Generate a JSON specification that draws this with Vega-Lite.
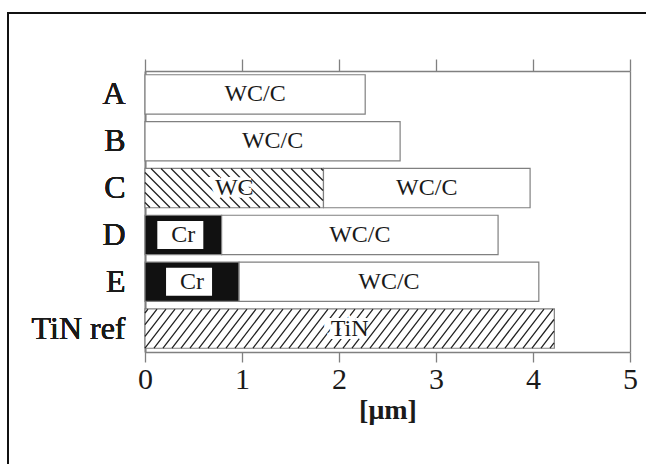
{
  "$schema": "https://vega.github.io/schema/vega-lite/v6.json",
  "autosize": {"type": "none"},
  "padding": {"left": 8, "top": 13, "right": -6, "bottom": -7},
  "width": 644,
  "height": 458,
  "background": "white",
  "config": {
    "view": {"stroke": "#111", "strokeWidth": 2},
    "font": "Liberation Serif",
    "axis": {"grid": false, "domainColor": "#808080", "domainWidth": 1.3, "tickColor": "#808080", "tickWidth": 1.3, "labelColor": "#1a1a1a", "labelFont": "Liberation Serif", "titleFont": "Liberation Serif", "titleColor": "#1a1a1a", "labelFlush": false}
  },
  "data": {
    "values": [
      {"sample": "A", "layer": "WC/C", "t": 2.27, "o": 1},
      {"sample": "B", "layer": "WC/C", "t": 2.63, "o": 1},
      {"sample": "C", "layer": "WC", "t": 1.84, "o": 1},
      {"sample": "C", "layer": "WC/C", "t": 2.13, "o": 2},
      {"sample": "D", "layer": "Cr", "t": 0.79, "o": 1},
      {"sample": "D", "layer": "WC/C", "t": 2.85, "o": 2},
      {"sample": "E", "layer": "Cr", "t": 0.97, "o": 1},
      {"sample": "E", "layer": "WC/C", "t": 3.09, "o": 2},
      {"sample": "TiN ref", "layer": "TiN", "t": 4.22, "o": 1}
    ]
  },
  "transform": [
    {"stack": "t", "groupby": ["sample"], "sort": [{"field": "o"}], "as": ["x0", "x1"]},
    {"calculate": "(datum.x0 + datum.x1) / 2", "as": "mid"}
  ],
  "encoding": {
    "y": {
      "field": "sample", "type": "nominal",
      "sort": ["A", "B", "C", "D", "E", "TiN ref"],
      "scale": {"range": [58, 339], "paddingInner": 0.16, "paddingOuter": 0.08},
      "axis": {"orient": "left", "offset": -137, "title": null, "ticks": false, "tickSize": 0, "labelPadding": 20, "labelFontSize": 32, "labelAngle": 0}
    }
  },
  "layer": [
    {
      "mark": {"type": "bar", "stroke": "#808080", "strokeWidth": 1.2},
      "encoding": {
        "x": {
          "field": "x0", "type": "quantitative",
          "scale": {"domain": [0, 5], "range": [137, 622], "nice": false},
          "axis": {"orient": "bottom", "offset": -119, "values": [0, 1, 2, 3, 4, 5], "tickSize": 10, "labelFontSize": 30, "labelPadding": 2, "title": "[μm]", "titleFontSize": 28, "titleFontWeight": "bold", "titlePadding": 2}
        },
        "x2": {"field": "x1"},
        "fill": {"condition": {"test": "datum.layer === 'Cr'", "value": "#111"}, "value": "white"}
      }
    },
    {
      "transform": [{"filter": "datum.layer === 'WC' || datum.layer === 'TiN'"}],
      "mark": {"type": "point", "filled": false, "color": "#222", "strokeWidth": 1.3, "opacity": 1, "size": 4},
      "encoding": {
        "x": {"field": "x0", "type": "quantitative", "axis": {"orient": "top", "offset": -58, "values": [0, 1, 2, 3, 4, 5], "tickSize": 12, "labels": false, "title": null}},
        "shape": {
          "field": "layer", "type": "nominal", "legend": null,
          "scale": {
            "domain": ["WC", "TiN"],
            "range": [
              "M0,14.5L5,19.5M0,4.5L15,19.5M0,-5.5L25,19.5M0,-15.5L35,19.5M6,-19.5l39,39M16,-19.5l39,39M26,-19.5l39,39M36,-19.5l39,39M46,-19.5l39,39M56,-19.5l39,39M66,-19.5l39,39M76,-19.5l39,39M86,-19.5l39,39M96,-19.5l39,39M106,-19.5l39,39M116,-19.5l39,39M126,-19.5l39,39M136,-19.5l39,39M146,-19.5L178,12.5M156,-19.5L178,2.5M166,-19.5L178,-7.5M176,-19.5L178,-17.5",
              "M0,-15.6L3,-19.5M0,-3.9L12,-19.5M0,7.8L21,-19.5M0,19.5l30,-39M9,19.5l30,-39M18,19.5l30,-39M27,19.5l30,-39M36,19.5l30,-39M45,19.5l30,-39M54,19.5l30,-39M63,19.5l30,-39M72,19.5l30,-39M81,19.5l30,-39M90,19.5l30,-39M99,19.5l30,-39M108,19.5l30,-39M117,19.5l30,-39M126,19.5l30,-39M135,19.5l30,-39M144,19.5l30,-39M153,19.5l30,-39M162,19.5l30,-39M171,19.5l30,-39M180,19.5l30,-39M189,19.5l30,-39M198,19.5l30,-39M207,19.5l30,-39M216,19.5l30,-39M225,19.5l30,-39M234,19.5l30,-39M243,19.5l30,-39M252,19.5l30,-39M261,19.5l30,-39M270,19.5l30,-39M279,19.5l30,-39M288,19.5l30,-39M297,19.5l30,-39M306,19.5l30,-39M315,19.5l30,-39M324,19.5l30,-39M333,19.5l30,-39M342,19.5l30,-39M351,19.5l30,-39M360,19.5l30,-39M369,19.5l30,-39M378,19.5l30,-39M387,19.5L409,-9.1M396,19.5L409,2.6M405,19.5L409,14.3"
            ]
          }
        }
      }
    },
    {
      "transform": [{"filter": "datum.layer === 'Cr'"}],
      "mark": {"type": "point", "filled": true, "color": "white", "opacity": 1, "size": 4, "xOffset": -3, "shape": "M-23,-14h46v28h-46z"},
      "encoding": {
        "x": {"field": "mid", "type": "quantitative", "axis": null}
      }
    },
    {
      "transform": [{"filter": "datum.layer === 'WC' || datum.layer === 'TiN'"}],
      "mark": {"type": "text", "fontSize": 24, "color": "white", "stroke": "white", "strokeWidth": 6, "baseline": "middle", "dx": -4},
      "encoding": {
        "x": {"field": "mid", "type": "quantitative", "axis": null},
        "text": {"field": "layer"}
      }
    },
    {
      "mark": {"type": "text", "fontSize": 24, "color": "#1a1a1a", "baseline": "middle"},
      "encoding": {
        "x": {"field": "mid", "type": "quantitative", "axis": null},
        "xOffset": {"condition": [{"test": "datum.layer === 'Cr'", "value": -3}, {"test": "datum.layer === 'WC' || datum.layer === 'TiN'", "value": -4}], "value": 0},
        "text": {"field": "layer"}
      }
    },
    {
      "mark": {"type": "rule", "strokeOpacity": 0},
      "encoding": {
        "y": {"field": "sample", "type": "nominal", "sort": ["A", "B", "C", "D", "E", "TiN ref"], "axis": {"orient": "right", "offset": -22, "title": null, "labels": false, "ticks": false}}
      }
    }
  ],
  "resolve": {"axis": {"x": "independent", "y": "independent"}}
}
